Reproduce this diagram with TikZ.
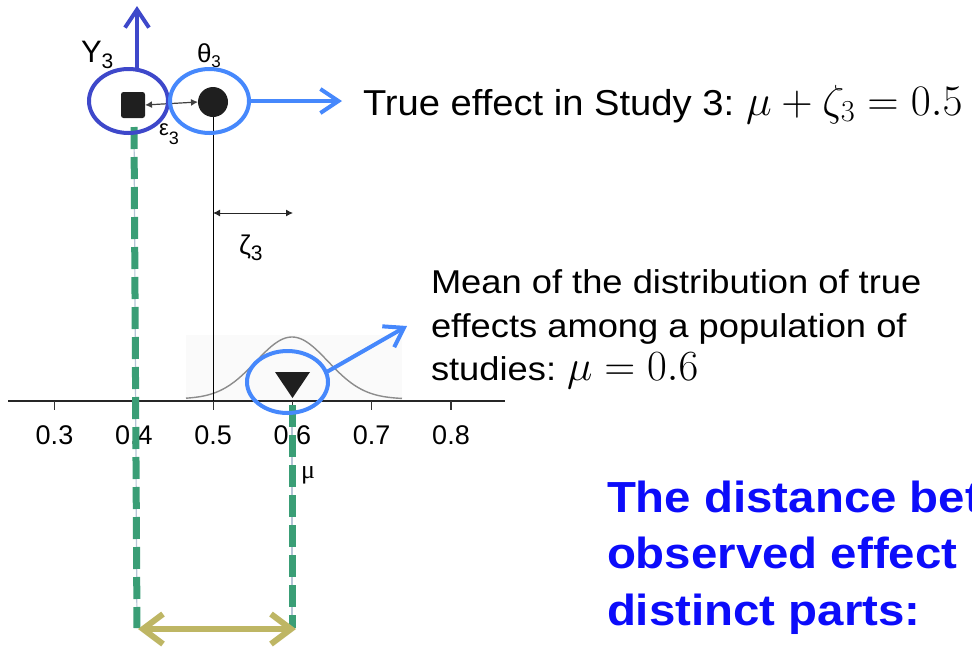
\RequirePackage{fix-cm}
\documentclass[tikz,border=0pt]{standalone}
\usepackage[no-math]{fontspec}
\setmainfont{Liberation Sans}
\newfontfamily\meanfont[FakeStretch=1.1]{Liberation Sans}
\newfontfamily\truefont[FakeStretch=1.06]{Liberation Sans}
\newfontfamily\bluefont[FakeStretch=1.09]{Liberation Sans}
\newfontfamily\seriffont{Liberation Serif}
\usetikzlibrary{arrows.meta,shapes.geometric}
\definecolor{dblue}{RGB}{62,72,202}
\definecolor{lblue}{RGB}{70,136,252}
\definecolor{dgreen}{RGB}{58,158,118}
\definecolor{khaki}{RGB}{190,182,100}
\definecolor{tblue}{RGB}{12,12,250}
\definecolor{paleline}{RGB}{182,196,214}
\begin{document}
\begin{tikzpicture}[x=1pt,y=-1pt,
  every node/.style={inner sep=0pt,outer sep=0pt},
  ticklbl/.style={anchor=base,font=\fontsize{27}{30}\selectfont},
  barb/.style={-{Straight Barb[length=18pt,width=24pt]},line width=4pt,line cap=round,line join=round},
  ring/.style={ellipse,draw,line width=4pt,inner sep=0pt},
  gdash/.style={dgreen,line width=7pt,dash pattern=on 22pt off 8pt},
  thin/.style={paleline,line width=1.2pt},
  small/.style={{Latex[length=7pt,width=7pt]}-{Latex[length=7pt,width=7pt]},line width=1pt}
]
\path[use as bounding box] (0,0) rectangle (972,646);
\clip (0,0) rectangle (972,646);

% faint background of density
\fill[black!2] (186,335) rectangle (402,401);
\draw[black!45,line width=1.4pt] plot[domain=186:402,samples=90] (\x,{399-62*exp(-((\x-292)*(\x-292))/2592)});

% axis
\coordinate (axL) at (8,401);
\coordinate (axR) at (505,401);
\draw[black!85,line width=1.3pt] (axL) -- (axR);
\foreach \v/\xx in {3/54.5,4/133.8,5/213.1,6/292.4,7/371.7,8/451} {
  \coordinate (tk\v) at (\xx,401);
  \draw[black!80,line width=1.1pt] (tk\v) -- ++(0,9);
  \node[ticklbl] (tl\v) at (\xx,444) {0.\v};
}

% points
\node[circle,fill=black!88,minimum size=30pt] (ci) at (213,102) {};
\node[rectangle,rounded corners=2.5pt,fill=black!88,minimum width=24pt,minimum height=26pt] (sq) at (133,105) {};
\coordinate (tri) at (292.5,385);
\fill[black!88] (275,372) -- (310,372) -- (292.5,398) -- cycle;

% vertical line theta -> axis
\coordinate (a5) at (213,401);
\draw[black,line width=1pt] (ci.south) -- (a5);

% zeta arrow
\coordinate (z1) at (213,213);
\coordinate (z2) at (293,213);
\draw[small,black!85] (z1) -- (z2);
\node[anchor=base west,font=\fontsize{27}{30}\selectfont] (zl) at (239,254) {ζ\raisebox{-6pt}{\fontsize{21}{21}\selectfont 3}};

% epsilon arrow
\draw[small,black!75,line width=1.2pt] (sq.east) -- (ci.west);

% labels
\node[anchor=base west,font=\fontsize{31}{34}\selectfont] (yl) at (81,62) {Y\raisebox{-6pt}{\fontsize{21}{21}\selectfont 3}};
\node[anchor=base west,font=\fontsize{26}{30}\selectfont] (tl) at (197,62) {θ\raisebox{-5pt}{\fontsize{17}{17}\selectfont 3}};
\node[anchor=base west,font=\fontsize{22}{26}\selectfont] (el) at (159,135) {ε\raisebox{-9pt}{\fontsize{18}{18}\selectfont 3}};
\node[anchor=base west,font=\seriffont\fontsize{26}{28}\selectfont] (ml) at (301,478) {μ};

% green dashed guides
\coordinate (gL1) at (134,127);
\coordinate (gL2) at (137,628);
\coordinate (gR1) at (292,405);
\coordinate (gR2) at (292,628);
\draw[thin] (gL1) -- (gL2);
\draw[thin] (gR1) -- (gR2);
\draw[gdash] (gL1) -- (gL2);
\draw[gdash] (gR1) -- (gR2);

% khaki double arrow
\coordinate (kL) at (138,629);
\coordinate (kR) at (296,629);
\draw[khaki,line width=6pt,line cap=round,line join=round,
  {Straight Barb[length=20pt,width=30pt]}-{Straight Barb[length=20pt,width=30pt]}] (kL) -- (kR);

% rings
\node[ring,draw=dblue,minimum width=79pt,minimum height=64pt] (ey) at (128.5,101) {};
\node[ring,draw=lblue,minimum width=79pt,minimum height=64pt] (et) at (209.5,101) {};
\node[ring,draw=lblue,minimum width=81pt,minimum height=62pt] (em) at (287.5,382) {};

% blue arrows
\coordinate (yup) at (137,6);
\draw[barb,dblue] (ey.north -| yup) -- (yup);
\coordinate (tright) at (342,101);
\draw[barb,lblue] (et.east) -- (tright);
\coordinate (mtip) at (407,326);
\draw[barb,lblue] (em.14) -- (mtip);

% texts
\node[anchor=base west,font=\truefont\fontsize{36}{40}\selectfont] (tt) at (363,115) {True effect in Study 3:};
\node[anchor=base west,font=\fontsize{43.5}{47}\selectfont] (tm) at (746,115) {$\mu+\zeta_3=0.5$};

\node[anchor=base west,font=\meanfont\fontsize{33}{36}\selectfont] (m1) at (431,293) {Mean of the distribution of true};
\node[anchor=base west,font=\meanfont\fontsize{33}{36}\selectfont] (m2) at (431,337) {effects among a population of};
\node[anchor=base west,font=\meanfont\fontsize{33}{36}\selectfont] (m3) at (431,380) {studies:};
\node[anchor=base west,font=\fontsize{43}{47}\selectfont] (mm) at (567,380) {$\mu=0.6$};

\node[anchor=base west,text=tblue,font=\bluefont\bfseries\fontsize{43.5}{46}\selectfont] (b1) at (607,512) {The distance bet};
\node[anchor=base west,text=tblue,font=\bluefont\bfseries\fontsize{43.5}{46}\selectfont] (b2) at (607,568) {observed effect};
\node[anchor=base west,text=tblue,font=\bluefont\bfseries\fontsize{43.5}{46}\selectfont] (b3) at (607,625) {distinct parts:};
\end{tikzpicture}
\end{document}
